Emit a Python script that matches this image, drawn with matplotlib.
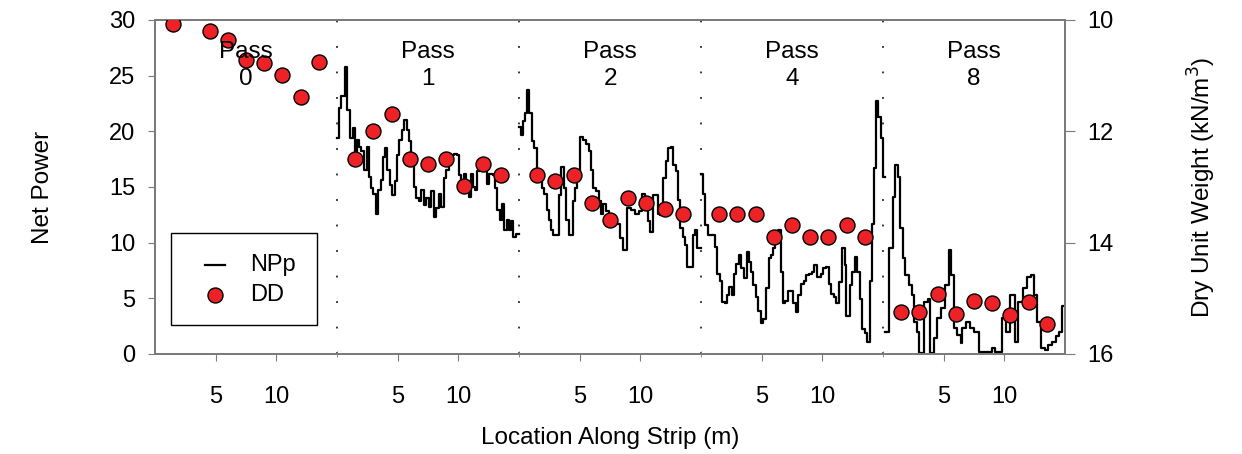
import matplotlib.pyplot as plt
from matplotlib.patches import Rectangle

plt.rcParams['font.family'] = ['Liberation Sans', 'DejaVu Sans']

# passes shown side by side, each one 15 m of strip
passes = ['0', '1', '2', '4', '8']
strip_len = 15

# DD: location (m) and dry unit weight (kN/m3) per pass
dd_loc = {
    '0': [1.5, 4.5, 6.0, 7.5, 9.0, 10.5, 12.0, 13.5],
    '1': [1.5, 3.0, 4.5, 6.0, 7.5, 9.0, 10.5, 12.0, 13.5],
    '2': [1.5, 3.0, 4.5, 6.0, 7.5, 9.0, 10.5, 12.0, 13.5],
    '4': [1.5, 3.0, 4.5, 6.0, 7.5, 9.0, 10.5, 12.0, 13.5],
    '8': [1.5, 3.0, 4.5, 6.0, 7.5, 9.0, 10.5, 12.0, 13.5],
}
dd_val = {
    '0': [10.07, 10.20, 10.36, 10.72, 10.78, 10.98, 11.38, 10.76],
    '1': [12.50, 11.99, 11.69, 12.50, 12.59, 12.50, 12.99, 12.59, 12.78],
    '2': [12.78, 12.89, 12.78, 13.29, 13.59, 13.19, 13.29, 13.39, 13.49],
    '4': [13.49, 13.49, 13.49, 13.90, 13.69, 13.90, 13.90, 13.69, 13.90],
    '8': [15.25, 15.25, 14.92, 15.28, 15.05, 15.09, 15.30, 15.07, 15.46],
}

# NPp: step starts (m) and net power levels, plus end of the last step
np_start = {
    '1': [0.0, 0.14, 0.36, 0.66, 0.85, 1.07, 1.29, 1.48, 1.62, 1.81, 2.01, 2.23,
          2.45, 2.64, 2.83, 2.99, 3.21, 3.41, 3.60, 3.79, 3.98, 4.15, 4.34, 4.56,
          4.75, 4.92, 5.14, 5.33, 5.52, 5.74, 5.93, 6.13, 6.35, 6.54, 6.76, 6.95,
          7.17, 7.36, 7.58, 7.77, 7.99, 8.19, 8.38, 8.60, 8.82, 9.01, 9.23, 9.64,
          9.92, 10.05, 10.25, 10.47, 10.66, 10.85, 11.02, 11.21, 11.40, 11.57,
          11.76, 11.95, 12.17, 12.34, 12.55, 12.86, 13.05, 13.21, 13.41, 13.60,
          13.79, 13.98, 14.18, 14.37, 14.53, 14.73],
    '2': [0.0, 0.14, 0.30, 0.52, 0.66, 0.85, 1.04, 1.26, 1.46, 1.68, 1.90, 2.09,
          2.28, 2.45, 2.64, 2.83, 3.27, 3.49, 3.74, 3.90, 4.09, 4.42, 4.62, 4.81,
          5.03, 5.25, 5.52, 5.74, 5.93, 6.13, 6.35, 6.57, 6.76, 6.95, 7.17, 7.45,
          7.72, 7.99, 8.35, 8.60, 8.90, 9.23, 9.59, 9.92, 10.14, 10.36, 10.60,
          10.82, 11.02, 11.43, 11.65, 11.90, 12.12, 12.28, 12.53, 12.72, 12.94,
          13.13, 13.30, 13.49, 13.68, 13.82, 14.31, 14.51, 14.67],
    '4': [0.0, 0.14, 0.34, 0.56, 1.13, 1.32, 1.55, 1.77, 1.97, 2.17, 2.34, 2.54,
          2.68, 2.90, 3.13, 3.32, 3.52, 3.75, 3.94, 4.14, 4.31, 4.51, 4.70, 4.93,
          5.15, 5.38, 5.58, 5.77, 5.94, 6.11, 6.34, 6.56, 6.76, 6.96, 7.18, 7.61,
          7.80, 8.03, 8.23, 8.45, 8.65, 8.87, 9.15, 9.35, 9.58, 9.86, 10.06, 10.34,
          10.51, 10.73, 10.93, 11.13, 11.41, 11.61, 11.83, 11.97, 12.25, 12.45,
          12.68, 12.87, 13.10, 13.27, 13.52, 13.66, 13.89, 14.08, 14.23, 14.39,
          14.62, 14.85, 15.0],
    '8': [0.19, 0.46, 0.82, 1.01, 1.23, 1.42, 1.63, 1.83, 2.18, 2.37, 2.59, 2.81,
          3.00, 3.35, 3.68, 3.90, 4.22, 4.44, 4.77, 5.10, 5.45, 5.64, 5.86, 6.13,
          6.40, 6.54, 6.81, 7.17, 7.49, 7.90, 8.99, 9.26, 9.81, 10.16, 10.49,
          10.84, 11.12, 11.53, 11.85, 12.18, 12.45, 12.72, 13.00, 13.35, 13.62,
          13.90, 14.22, 14.52, 14.77],
}
np_level = {
    '1': [19.4, 22.1, 23.2, 25.8, 21.9, 19.4, 20.3, 17.9, 19.2, 18.6, 18.2, 16.5,
          18.6, 15.9, 14.9, 14.4, 12.6, 14.7, 15.6, 17.7, 18.5, 16.5, 15.2, 14.3,
          15.5, 17.9, 19.2, 20.1, 21.0, 20.1, 19.1, 17.4, 15.0, 14.0, 13.7, 14.7,
          13.4, 14.0, 13.2, 14.6, 12.3, 13.1, 14.4, 13.2, 15.8, 16.5, 17.9, 18.0,
          17.9, 16.1, 15.3, 16.2, 14.9, 14.1, 16.2, 15.0, 14.7, 16.4, 17.3, 17.4,
          16.5, 15.3, 16.2, 16.1, 14.9, 12.9, 12.0, 13.5, 11.1, 12.0, 11.1, 11.9,
          10.5, 10.8],
    '2': [20.4, 19.7, 20.9, 21.6, 23.7, 21.6, 19.1, 18.5, 16.5, 15.6, 14.9, 14.4,
          12.9, 12.0, 11.1, 10.7, 14.3, 16.8, 14.9, 12.0, 10.7, 13.7, 14.9, 16.4,
          19.5, 19.2, 18.9, 18.2, 16.5, 14.9, 14.6, 13.7, 12.6, 13.5, 12.8, 12.5,
          11.9, 11.7, 10.4, 9.3, 13.1, 12.9, 12.6, 12.8, 14.4, 13.5, 11.9, 11.0,
          14.3, 12.6, 12.5, 15.8, 17.3, 18.5, 18.6, 17.0, 16.4, 13.8, 11.3, 10.5,
          9.8, 7.8, 10.7, 11.1, 9.5],
    '4': [16.2, 14.4, 11.6, 10.7, 9.6, 7.2, 6.6, 4.7, 4.6, 5.3, 6.0, 5.3,
          7.2, 8.1, 8.9, 7.7, 6.8, 9.2, 8.3, 7.4, 6.2, 5.1, 3.9, 2.8,
          3.1, 5.9, 8.6, 8.9, 9.5, 10.1, 11.1, 7.4, 4.6, 4.8, 5.7, 4.6,
          3.8, 5.3, 6.3, 6.6, 7.1, 7.2, 7.4, 8.0, 6.9, 7.2, 7.7, 7.8,
          6.3, 5.4, 5.1, 4.6, 6.5, 9.5, 8.0, 3.4, 6.2, 7.4, 8.7, 7.4,
          4.9, 2.2, 1.9, 1.1, 6.6, 11.7, 16.7, 22.7, 21.3, 19.4, 15.9],
    '8': [2.0, 9.5, 14.1, 17.0, 15.9, 11.3, 8.6, 7.1, 6.2, 5.3, 2.9, 2.0,
          0.06, 4.7, 4.9, 0.06, 1.4, 3.2, 4.1, 6.2, 9.3, 7.1, 2.3, 1.7,
          1.0, 2.3, 2.9, 2.3, 2.0, 0.2, 0.5, 0.2, 3.2, 2.0, 5.3, 1.1,
          4.7, 5.9, 6.9, 7.1, 5.3, 2.9, 0.5, 0.4, 0.8, 1.1, 1.6, 2.0, 4.3],
}
np_end = {'1': 15.0, '2': 15.0, '4': 15.2, '8': 15.0}

fig = plt.figure(figsize=(12.42, 4.54), dpi=100)
ax = fig.add_axes([0.1248, 0.2203, 0.7327, 0.7357])
ax2 = ax.twinx()

spine_col = '#7a7a7a'
dot_red = '#ec2227'

# NPp step lines
for k, p in enumerate(passes):
    if p not in np_start:
        continue
    off = k * strip_len
    xs = [off + v for v in np_start[p]] + [off + np_end[p]]
    ys = np_level[p] + [np_level[p][-1]]
    ax.step(xs, ys, where='post', color='black', lw=1.6)

# DD points
for k, p in enumerate(passes):
    off = k * strip_len
    ax2.plot([off + v for v in dd_loc[p]], dd_val[p], 'o', ms=10.8,
             mfc=dot_red, mec='black', mew=1.0, zorder=3)

# pass boundaries
for k in range(1, len(passes)):
    ax.axvline(k * strip_len, color='black', lw=1.1,
               linestyle=(0, (1.2, 15.5)), zorder=0)

# pass labels
for k, p in enumerate(passes):
    ax2.text(k * strip_len + strip_len / 2, 25.9, 'Pass\n' + p,
             transform=ax.transData, ha='center', va='center',
             fontsize=17.5, linespacing=1.3, zorder=5)

ax.set_xlim(0, strip_len * len(passes))
ax.set_ylim(0, 30)
ax.set_yticks([0, 5, 10, 15, 20, 25, 30])
ax2.set_ylim(16, 10)
ax2.set_yticks([10, 12, 14, 16])

xt = []
xl = []
for k in range(len(passes)):
    xt += [k * strip_len + 5, k * strip_len + 10]
    xl += ['5', '10']
ax.set_xticks(xt)
ax.set_xticklabels(xl)
ax.set_xticks([k * strip_len for k in range(1, len(passes))], minor=True)

ax.tick_params(axis='x', which='major', length=5, pad=18, labelsize=17,
               color=spine_col)
ax.tick_params(axis='x', which='minor', length=5, direction='inout',
               color=spine_col)
ax.tick_params(axis='y', length=5, pad=9, labelsize=17, color=spine_col)
ax2.tick_params(axis='y', length=7, pad=9, labelsize=17, color=spine_col)

for a in (ax, ax2):
    for s in a.spines.values():
        s.set_color(spine_col)
        s.set_linewidth(1.3)

ax.set_xlabel('Location Along Strip (m)', fontsize=17.5, labelpad=14)
ax.set_ylabel('Net Power', fontsize=17.5, labelpad=40)
ax2.set_ylabel('Dry Unit Weight (kN/m$^3$)', fontsize=17.5, labelpad=52)

# legend box drawn by hand to match the original layout
ax2.add_patch(Rectangle((0.0176, 0.0868), 0.1604, 0.2752,
                        transform=ax2.transAxes, fill=True, fc='white',
                        ec='black', lw=1.0, zorder=6))
ax2.plot([0.0549, 0.0769], [0.2665, 0.2665], transform=ax2.transAxes,
         color='black', lw=1.6, zorder=7)
ax2.plot([0.0659], [0.1766], 'o', transform=ax2.transAxes, ms=10.8,
         mfc=dot_red, mec='black', mew=1.0, zorder=7)
ax2.text(0.1044, 0.2665, 'NPp', transform=ax2.transAxes, va='center',
         ha='left', fontsize=17, zorder=7)
ax2.text(0.1044, 0.1766, 'DD', transform=ax2.transAxes, va='center',
         ha='left', fontsize=17, zorder=7)

fig.savefig('out.png', dpi=100)
